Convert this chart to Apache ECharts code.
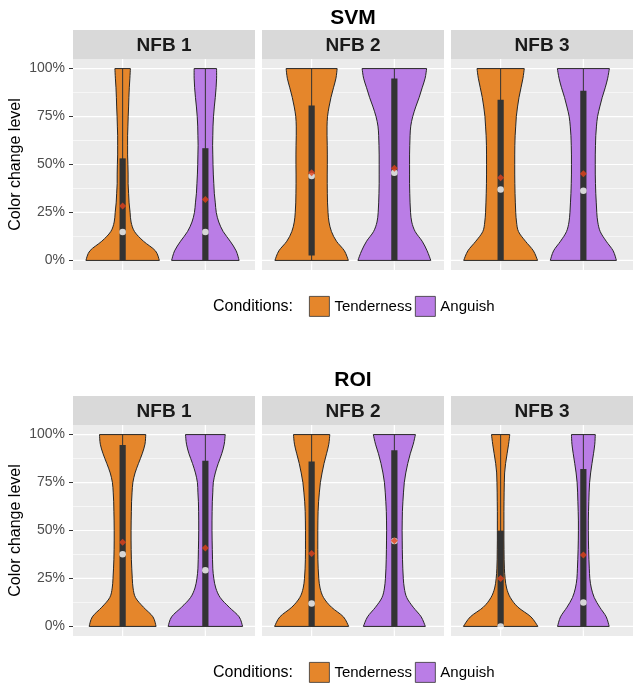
<!DOCTYPE html>
<html><head><meta charset="utf-8">
<script src="https://cdn.jsdelivr.net/npm/echarts@6/dist/echarts.min.js"></script>
<style>html,body{margin:0;padding:0;background:#fff}#c{width:638px;height:689px}</style>
</head><body><div id="c"></div>
<script>
// ---------- data ----------
const methods = ['SVM', 'ROI'];
const sessions = ['NFB 1', 'NFB 2', 'NFB 3'];
const conditions = ['Tenderness', 'Anguish'];
const yTickValues = [0, 0.25, 0.5, 0.75, 1];
// levels (color change level) at which the violin density is read
const densityLevels = [0,0.05,0.1,0.15,0.2,0.25,0.3,0.35,0.4,0.45,0.5,0.55,0.6,0.65,0.7,0.75,0.8,0.85,0.9,0.95,1];
// relative density (violin half width, arbitrary units), one row per session
const svmTenderness = [
  [37,33,21,12,8.5,7.5,6.5,6,5.5,5.5,5.3,5,5,5,5.3,5.6,6,6.3,6.7,7.3,7.8],
  [37,33,25,20,17.5,16.5,16,15.8,15.7,15.7,15.8,15.8,15.7,15.5,15.5,16,17.5,19.5,22,24.5,25.7],
  [37.2,33,25,18,16,15.2,14.8,14.5,14.3,14.2,14.2,14.2,14.3,14.6,15.2,15.8,17,18.5,20.5,22.5,23.8]
];
const svmAnguish = [
  [34,31,25,18,13.5,11,10,9,8.5,8,7.7,7.5,7.3,7.5,7.7,8.2,9,10,10.8,11.3,11.3],
  [36.7,33,28,21,17.5,16.3,15.8,15.5,15.3,15.3,15.3,15.3,15.5,15.8,16.5,18.5,21.5,25,28,31,32.5],
  [33.3,30,23,17,14.5,13.5,13,12.5,12.2,12,12,12,12.2,12.5,13.2,14.3,16.5,19,22,24.5,26.2]
];
const roiTenderness = [
  [33.7,30.5,21,13,10.5,9.7,9.2,8.8,8.6,8.5,8.5,8.6,8.8,9,9.5,10.3,12.5,16,19.7,22.5,23.3],
  [37.3,32,20,12,8.5,7.2,6.6,6.3,6.2,6.2,6.2,6.3,6.5,7,7.8,8.8,10.5,12.5,15,17.3,18.3],
  [37.5,30.5,17.5,9.8,6,4.5,3.8,3.5,3.4,3.3,3.3,3.3,3.3,3.4,3.5,3.7,4,5,6.5,8,9.2]
];
const roiAnguish = [
  [37.5,34,24,15,10.5,8.5,7.5,7.2,7,6.8,6.7,6.7,6.8,7,7.5,8,10,13,16.5,19,20],
  [31.2,27,19,12.5,10,9,8.5,8.2,8,7.9,7.8,7.9,8.1,8.6,9.2,10,11.5,13.5,16,19,21.2],
  [26,23,16.5,11,8,6.5,6,5.6,5.3,5.1,5,5,5.2,5.5,5.8,6.3,7.3,8.7,10.2,11.5,12]
];
// box statistics: [lower whisker, Q1, median, Q3, upper whisker]
const svmTenderBox = [[0,0,0.148,0.532,1],[0,0.026,0.44,0.808,1],[0,0,0.37,0.838,1]];
const svmAnguishBox = [[0,0,0.148,0.585,1],[0,0,0.457,0.948,1],[0,0,0.363,0.885,1]];
const roiTenderBox = [[0,0,0.376,0.946,1],[0,0,0.119,0.86,1],[0,0,0,0.499,1]];
const roiAnguishBox = [[0,0,0.293,0.864,1],[0,0,0.445,0.918,1],[0,0,0.124,0.82,1]];
// means
const svmTenderMean = [0.283, 0.457, 0.431];
const svmAnguishMean = [0.318, 0.48, 0.452];
const roiTenderMean = [0.439, 0.38, 0.25];
const roiAnguishMean = [0.409, 0.447, 0.372];

// ---------- style / layout ----------
const FONT = '"Liberation Sans", Arial, Helvetica, sans-serif';
const condColors = ['#E5862B', '#BA7DE6'];
const DENS_TO_UNITS = 0.45 / 37.5;
const BOX_WIDTH = 0.075;
const panelLeft = [73, 262, 451], panelW = 182;
const stripTop = [30, 396], stripH = 29;
const plotTop = [59, 425], plotH = 211;
const titleY = [18, 380];
const legendTop = [296, 662];

const rows = [
  {dens: [svmTenderness, svmAnguish], box: [svmTenderBox, svmAnguishBox], mean: [svmTenderMean, svmAnguishMean]},
  {dens: [roiTenderness, roiAnguish], box: [roiTenderBox, roiAnguishBox], mean: [roiTenderMean, roiAnguishMean]}
];

function catmull(pts) {
  let d = '';
  for (let i = 0; i < pts.length - 1; i++) {
    const p0 = pts[Math.max(0, i - 1)], p1 = pts[i], p2 = pts[i + 1], p3 = pts[Math.min(pts.length - 1, i + 2)];
    const c1 = [p1[0] + (p2[0] - p0[0]) / 6, p1[1] + (p2[1] - p0[1]) / 6];
    const c2 = [p2[0] - (p3[0] - p1[0]) / 6, p2[1] - (p3[1] - p1[1]) / 6];
    d += 'C' + c1[0].toFixed(2) + ',' + c1[1].toFixed(2) + ' ' + c2[0].toFixed(2) + ',' + c2[1].toFixed(2) + ' ' + p2[0].toFixed(2) + ',' + p2[1].toFixed(2);
  }
  return d;
}

function violinRender(dens) {
  return function (params, api) {
    const x = api.value(0);
    const ppu = api.size([1, 0])[0];
    const right = [], left = [];
    for (let i = 0; i < densityLevels.length; i++) {
      const p = api.coord([x, densityLevels[i]]);
      const w = dens[i] * DENS_TO_UNITS * ppu;
      right.push([p[0] + w, p[1]]);
      left.push([p[0] - w, p[1]]);
    }
    const l = left.slice().reverse();
    const d = 'M' + right[0][0] + ',' + right[0][1] + catmull(right) +
      'L' + l[0][0] + ',' + l[0][1] + catmull(l) + 'Z';
    return {type: 'path', shape: {pathData: d},
      style: {fill: api.visual('color'), stroke: '#262626', lineWidth: 1}};
  };
}

function boxRender(params, api) {
  const x = api.value(0);
  const ppu = api.size([1, 0])[0];
  const lo = api.coord([x, api.value(1)]), q1 = api.coord([x, api.value(2)]);
  const q3 = api.coord([x, api.value(4)]), hi = api.coord([x, api.value(5)]);
  const bw = BOX_WIDTH * ppu;
  return {type: 'group', children: [
    {type: 'line', shape: {x1: lo[0], y1: lo[1], x2: hi[0], y2: hi[1]}, style: {stroke: '#333', lineWidth: 1}},
    {type: 'rect', shape: {x: q3[0] - bw / 2, y: q3[1], width: bw, height: q1[1] - q3[1]}, style: {fill: '#333333'}}
  ]};
}

function gridRender(params, api) {
  const children = [];
  const xl = 0.4, xr = 2.6;
  for (let i = 0; i < yTickValues.length - 1; i++) {
    const m = (yTickValues[i] + yTickValues[i + 1]) / 2;
    const a = api.coord([xl, m]), b = api.coord([xr, m]);
    children.push({type: 'line', shape: {x1: a[0], y1: a[1], x2: b[0], y2: b[1]}, style: {stroke: '#fff', lineWidth: 0.6}});
  }
  yTickValues.forEach(v => {
    const a = api.coord([xl, v]), b = api.coord([xr, v]);
    children.push({type: 'line', shape: {x1: a[0], y1: a[1], x2: b[0], y2: b[1]}, style: {stroke: '#fff', lineWidth: 1.2}});
  });
  [1, 2].forEach(v => {
    const a = api.coord([v, -0.05]), b = api.coord([v, 1.05]);
    children.push({type: 'line', shape: {x1: a[0], y1: a[1], x2: b[0], y2: b[1]}, style: {stroke: '#fff', lineWidth: 1.2}});
  });
  return {type: 'group', children};
}

const grid = [], xAxis = [], yAxis = [], series = [], graphic = [], legend = [];
methods.forEach((title, r) => {
  const row = rows[r];
  graphic.push({type: 'text', silent: true, style: {text: title, x: 353, y: titleY[r], align: 'center', verticalAlign: 'middle', font: 'bold 21px ' + FONT, fill: '#000'}});
  graphic.push({type: 'text', silent: true, style: {text: 'Conditions:', x: 213, y: legendTop[r] + 10.5, align: 'left', verticalAlign: 'middle', font: '16px ' + FONT, fill: '#000'}});
  legend.push({top: legendTop[r], left: 309, padding: 0, itemWidth: 20, itemHeight: 20, itemGap: 3, icon: 'rect', selectedMode: false,
    textStyle: {fontSize: 15, color: '#000', fontFamily: FONT},
    data: conditions.map((c, k) => ({name: c, itemStyle: {color: condColors[k], borderColor: '#333', borderWidth: 0.8}}))});
  sessions.forEach((s, c) => {
    const gi = r * 3 + c;
    grid.push({left: panelLeft[c], top: plotTop[r], width: panelW, height: plotH, show: true, backgroundColor: '#EBEBEB', borderWidth: 0});
    graphic.push({type: 'rect', silent: true, shape: {x: panelLeft[c], y: stripTop[r], width: panelW, height: stripH}, style: {fill: '#D9D9D9'}});
    graphic.push({type: 'text', silent: true, style: {text: s, x: panelLeft[c] + panelW / 2, y: stripTop[r] + stripH / 2 + 1, align: 'center', verticalAlign: 'middle', font: 'bold 19px ' + FONT, fill: '#1A1A1A'}});
    xAxis.push({gridIndex: gi, type: 'value', min: 0.4, max: 2.6, axisLine: {show: false}, splitLine: {show: false},
      axisLabel: {show: false}, axisTick: {show: true, customValues: [1, 2], length: 4, lineStyle: {color: '#333', width: 1}}});
    yAxis.push({gridIndex: gi, type: 'value', min: -0.05, max: 1.05, axisLine: {show: false}, splitLine: {show: false},
      axisLabel: c === 0 ? {show: true, customValues: yTickValues, formatter: v => Math.round(v * 100) + '%', color: '#4D4D4D', fontSize: 14, fontFamily: FONT, margin: 8} : {show: false},
      axisTick: c === 0 ? {show: true, customValues: yTickValues, length: 4, lineStyle: {color: '#333'}} : {show: false},
      name: c === 0 ? 'Color change level' : '', nameLocation: 'middle', nameGap: 49,
      nameTextStyle: {fontSize: 16, color: '#000', fontFamily: FONT}});
    series.push({type: 'custom', xAxisIndex: gi, yAxisIndex: gi, z: 1, silent: true, data: [[1, 0]], renderItem: gridRender});
    conditions.forEach((cond, k) => {
      series.push({type: 'custom', name: cond, xAxisIndex: gi, yAxisIndex: gi, z: 2, silent: true,
        itemStyle: {color: condColors[k]}, data: [[k + 1, 0.5]], renderItem: violinRender(row.dens[k][c])});
    });
    series.push({type: 'custom', xAxisIndex: gi, yAxisIndex: gi, z: 3, silent: true,
      data: conditions.map((cond, k) => [k + 1].concat(row.box[k][c])), renderItem: boxRender});
    series.push({type: 'scatter', xAxisIndex: gi, yAxisIndex: gi, z: 4, silent: true, symbol: 'circle', symbolSize: 6.5,
      itemStyle: {color: '#ffffff'}, data: conditions.map((cond, k) => [k + 1, row.box[k][c][2]])});
    series.push({type: 'scatter', xAxisIndex: gi, yAxisIndex: gi, z: 5, silent: true, symbol: 'diamond', symbolSize: 7,
      itemStyle: {color: '#E2421B'}, data: conditions.map((cond, k) => [k + 1, row.mean[k][c]])});
  });
});

const chart = echarts.init(document.getElementById('c'));
chart.setOption({animation: false, backgroundColor: '#fff', grid, xAxis, yAxis, series, graphic, legend});
</script></body></html>
